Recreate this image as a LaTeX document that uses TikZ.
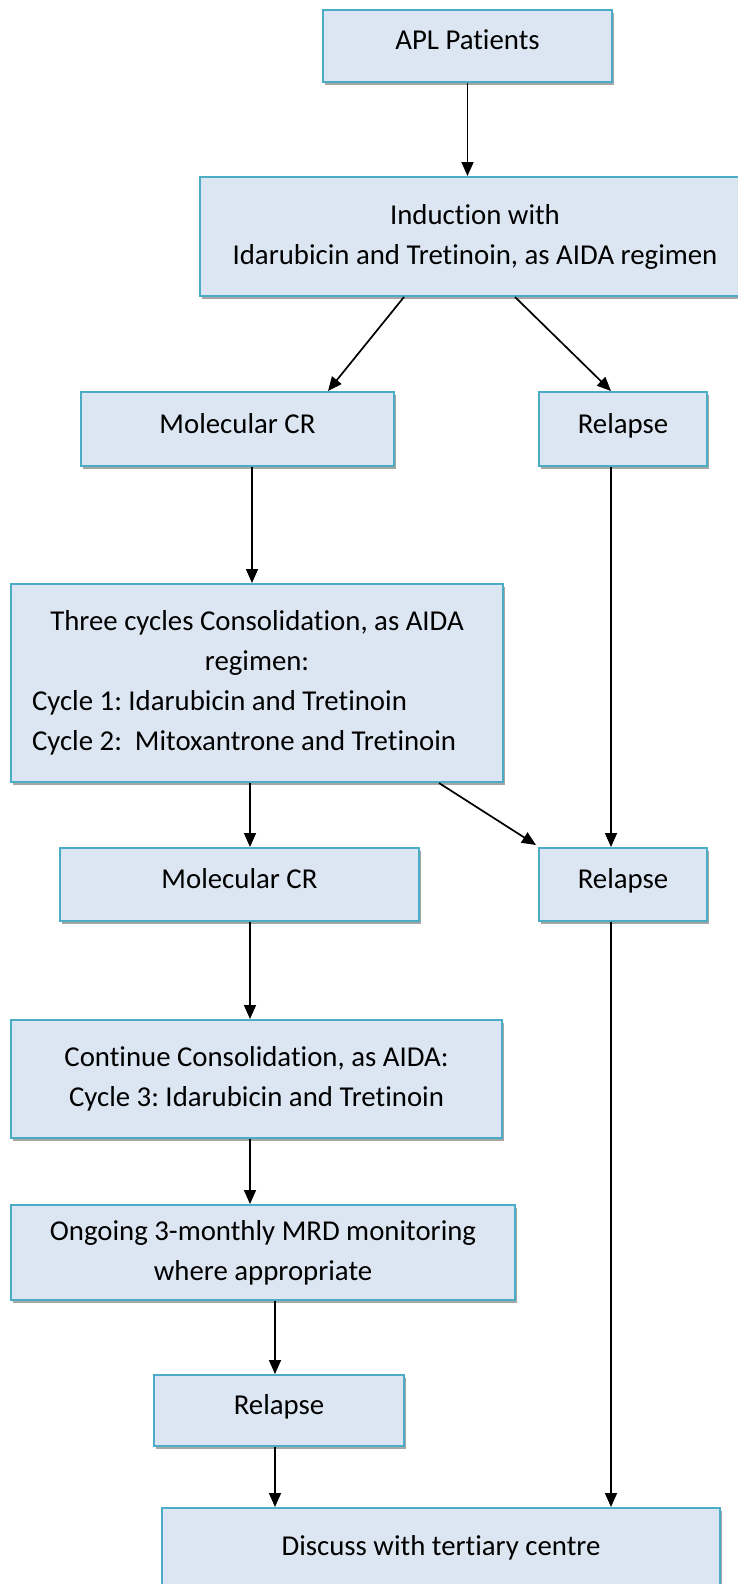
\documentclass[tikz,border=0pt]{standalone}
\usepackage{fontspec}
\setmainfont{Carlito}[Ligatures={NoCommon}]
\usetikzlibrary{shadows,arrows.meta,calc}
\definecolor{boxfill}{HTML}{DCE6F2}
\definecolor{boxline}{HTML}{4BACC6}
\frenchspacing
\begin{document}
\begin{tikzpicture}[x=1pt,y=-1pt,
  box/.style={draw=boxline, fill=boxfill, line width=2pt,
    drop shadow={shadow xshift=2pt, shadow yshift=-3pt, opacity=0.35, fill=black},
    inner sep=0pt, font=\fontsize{28.8}{40}\selectfont\frenchspacing, align=center},
  one/.style={text height=20pt, text depth=12pt},
  arr/.style={line width=1.7pt, -{Triangle[length=14pt,width=12pt]}}]
\useasboundingbox (0,0) rectangle (737,1584);

\node[box, one, minimum width=289pt, minimum height=72pt] (apl) at (467.5,46) {APL Patients};
\node[box, minimum width=550pt, minimum height=119pt] (ind) at (475,236.5) {Induction with\\Idarubicin and Tretinoin, as AIDA regimen};
\node[box, one, minimum width=313pt, minimum height=74pt] (mol1) at (237.5,429) {Molecular CR};
\node[box, one, minimum width=168pt, minimum height=74pt] (rel1) at (623,429) {Relapse};
\node[box, minimum width=492pt, minimum height=198pt] (three) at (257,683) {Three cycles Consolidation, as AIDA\\regimen:\\\makebox[450pt][l]{Cycle 1: Idarubicin and Tretinoin}\\\makebox[450pt][l]{Cycle 2:\ \ Mitoxantrone and Tretinoin}};
\node[box, one, minimum width=359pt, minimum height=73pt] (mol2) at (239.5,884.5) {Molecular CR};
\node[box, one, minimum width=168pt, minimum height=73pt] (rel2) at (623,884.5) {Relapse};
\node[box, minimum width=491pt, minimum height=118pt] (cont) at (256.5,1079) {Continue Consolidation, as AIDA:\\Cycle 3: Idarubicin and Tretinoin};
\node[box, minimum width=504pt, minimum height=95pt] (ong) at (263,1252.5) {Ongoing 3-monthly MRD monitoring\\where appropriate};
\node[box, one, minimum width=250pt, minimum height=71pt] (rel3) at (279,1410.5) {Relapse};
\node[box, minimum width=558pt, minimum height=114pt] (disc) at (441,1565) {Discuss with tertiary centre\\\mbox{}};

\coordinate (xa) at (252,0);
\coordinate (xb) at (250,0);
\coordinate (xc) at (275,0);
\coordinate (xd) at (611,0);

\draw[arr] (apl.south) -- (apl.south |- ind.north);
\draw[arr] ([xshift=-71pt]ind.south) -- ([xshift=90.5pt]mol1.north);
\draw[arr] ([xshift=40pt]ind.south) -- ([xshift=-12pt]rel1.north);
\draw[arr] (mol1.south -| xa) -- (three.north -| xa);
\draw[arr] (rel1.south -| xd) -- (rel2.north -| xd);
\draw[arr] (three.south -| xb) -- (mol2.north -| xb);
\draw[arr] ([xshift=182pt]three.south) -- ([xshift=-2pt,yshift=2pt]rel2.north west);
\draw[arr] (mol2.south -| xb) -- (cont.north -| xb);
\draw[arr] (cont.south -| xb) -- (ong.north -| xb);
\draw[arr] (ong.south -| xc) -- (rel3.north -| xc);
\draw[arr] (rel3.south -| xc) -- (disc.north -| xc);
\draw[arr] (rel2.south -| xd) -- (disc.north -| xd);
\end{tikzpicture}
\end{document}
